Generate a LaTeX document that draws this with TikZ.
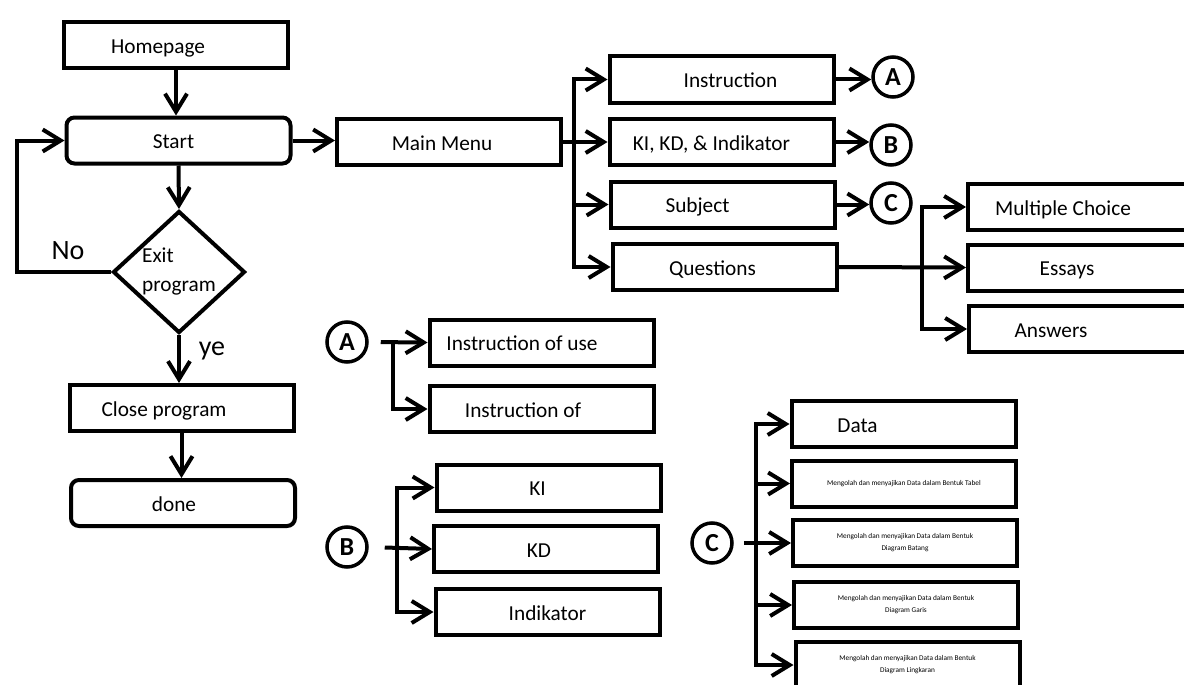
\documentclass[tikz,border=0pt]{standalone}
\usepackage{fontspec}
\setmainfont{Carlito}
\usetikzlibrary{arrows.meta}
\usetikzlibrary{shapes.geometric}

\begin{document}
\begin{tikzpicture}[x=1pt,y=-1pt,
  frame/.style={draw, line width=4pt, minimum width=224pt, minimum height=46pt, inner sep=0pt},
  box/.style={frame, text height=16pt, text depth=0pt, font=\fontsize{21.3}{25}\selectfont},
  rbox/.style={box, rounded corners=8pt},
  small/.style={frame, font=\fontsize{7.3}{12}\selectfont, align=center},
  circ/.style={circle, draw, line width=3.5pt, minimum size=40pt, inner sep=0pt, font=\fontsize{26}{30}\bfseries},
  dec/.style={diamond, draw, line width=4pt, minimum width=132pt, minimum height=122pt, inner sep=0pt, align=left, font=\fontsize{21.3}{29}\selectfont},
  lbl/.style={font=\fontsize{28}{32}\selectfont},
  tx/.style={execute at begin node={\hspace*{#1}}},
  arr/.style={line width=4pt, -{Straight Barb[length=18pt,width=22pt]}}]
\useasboundingbox (0,0) rectangle (1184,685);
\clip (0,0) rectangle (1184,685);

\node[box, tx=-36pt] (home) at (176,45.5) {Homepage};
\node[rbox, tx=-10pt] (start) at (178.5,140.5) {Start};
\node[box, tx=-14pt] (menu) at (449,142) {Main Menu};
\node[dec] (dia) at (179,272) {Exit\\program};
\node[box, tx=-35pt] (close) at (181.5,408) {Close program};
\node[rbox, tx=-18pt] (done) at (183,503) {done};
\node[lbl] (no) at (68,251) {No};
\node[lbl] (ye) at (212,351) {ye};
\coordinate (lp) at (17,140.5);

\draw[arr] (home.south) -- (home.south |- start.north);
\draw[arr] (start.south) -- (dia.north);
\draw[arr] (start.east) -- (start.east -| menu.west);
\draw[arr] (dia.west) -| (lp) -- (start.west);
\draw[arr] (dia.south) -- (dia.south |- close.north);
\draw[arr] (close.south) -- (close.south |- done.north);

\node[box, tx=18pt] (instr) at (721.5,79.5) {Instruction};
\node[box, tx=-20pt] (kikd) at (721.5,142) {KI, KD, \& Indikator};
\node[box, tx=-50pt] (subj) at (722.5,204.5) {Subject};
\node[box, tx=-24pt] (ques) at (724.5,267) {Questions};
\node[circ] (ca) at (893,77) {A};
\node[circ] (cb) at (891,145) {B};
\node[circ] (cc) at (891,203) {C};
\coordinate (br1) at (574,0);

\draw[arr] (menu.east) -- (menu.east -| br1) |- (instr.west);
\draw[arr] (menu.east) -- (kikd.west);
\draw[arr] (br1 |- subj) -- (subj.west);
\draw[arr] (menu.east -| br1) |- (ques.west);
\draw[arr] (instr.east) -- (instr.east -| ca.west);
\draw[arr] (kikd.east) -- (kikd.east -| cb.west);
\draw[arr] (subj.east) -- (subj.east -| cc.west);

\node[box, tx=-34pt] (mc) at (1080,207) {Multiple Choice};
\node[box, tx=-26pt] (essay) at (1080,267.5) {Essays};
\node[box, tx=-60pt] (answ) at (1081,329) {Answers};
\coordinate (br2) at (922,0);

\draw[arr] (ques.east) -- (essay.west);
\draw[arr] (ques.east -| br2) |- (mc.west);
\draw[arr] (ques.east -| br2) |- (answ.west);

\node[circ] (ca2) at (347,342) {A};
\node[box, tx=-39pt] (use) at (541.5,342.5) {Instruction of use};
\node[box, tx=-37pt] (instof) at (541.5,409) {Instruction of};
\coordinate (ba) at (393,0);

\draw[arr, shorten <=12pt] (ca2.east) -- (use.west);
\draw[arr] (ca2.east -| ba) |- (instof.west);

\node[circ] (cb2) at (347,547) {B};
\node[box, tx=-22pt] (ki) at (548.5,487.5) {KI};
\node[box, tx=-14pt] (kd) at (546,549) {KD};
\node[box] (ind) at (547.5,612) {Indikator};
\coordinate (bb) at (397,0);

\draw[arr, shorten <=16pt] (cb2.east) -- (kd.west);
\draw[arr] (cb2.east -| bb) |- (ki.west);
\draw[arr] (cb2.east -| bb) |- (ind.west);

\node[circ] (cc2) at (712,543) {C};
\node[box, tx=-92pt] (data) at (903.5,424) {Data};
\node[small] (tab) at (904,483.5) {Mengolah dan menyajikan Data dalam Bentuk Tabel};
\node[small] (bat) at (905,543) {Mengolah dan menyajikan Data dalam Bentuk\\Diagram Batang};
\node[small] (gar) at (906,605) {Mengolah dan menyajikan Data dalam Bentuk\\Diagram Garis};
\node[small] (ling) at (907.5,665) {Mengolah dan menyajikan Data dalam Bentuk\\Diagram Lingkaran};
\coordinate (bc) at (756,0);

\draw[arr, shorten <=10pt] (cc2.east) -- (bat.west);
\foreach \n in {data,tab,gar,ling}
  \draw[arr] (cc2.east -| bc) |- (\n.west);
\end{tikzpicture}
\end{document}
